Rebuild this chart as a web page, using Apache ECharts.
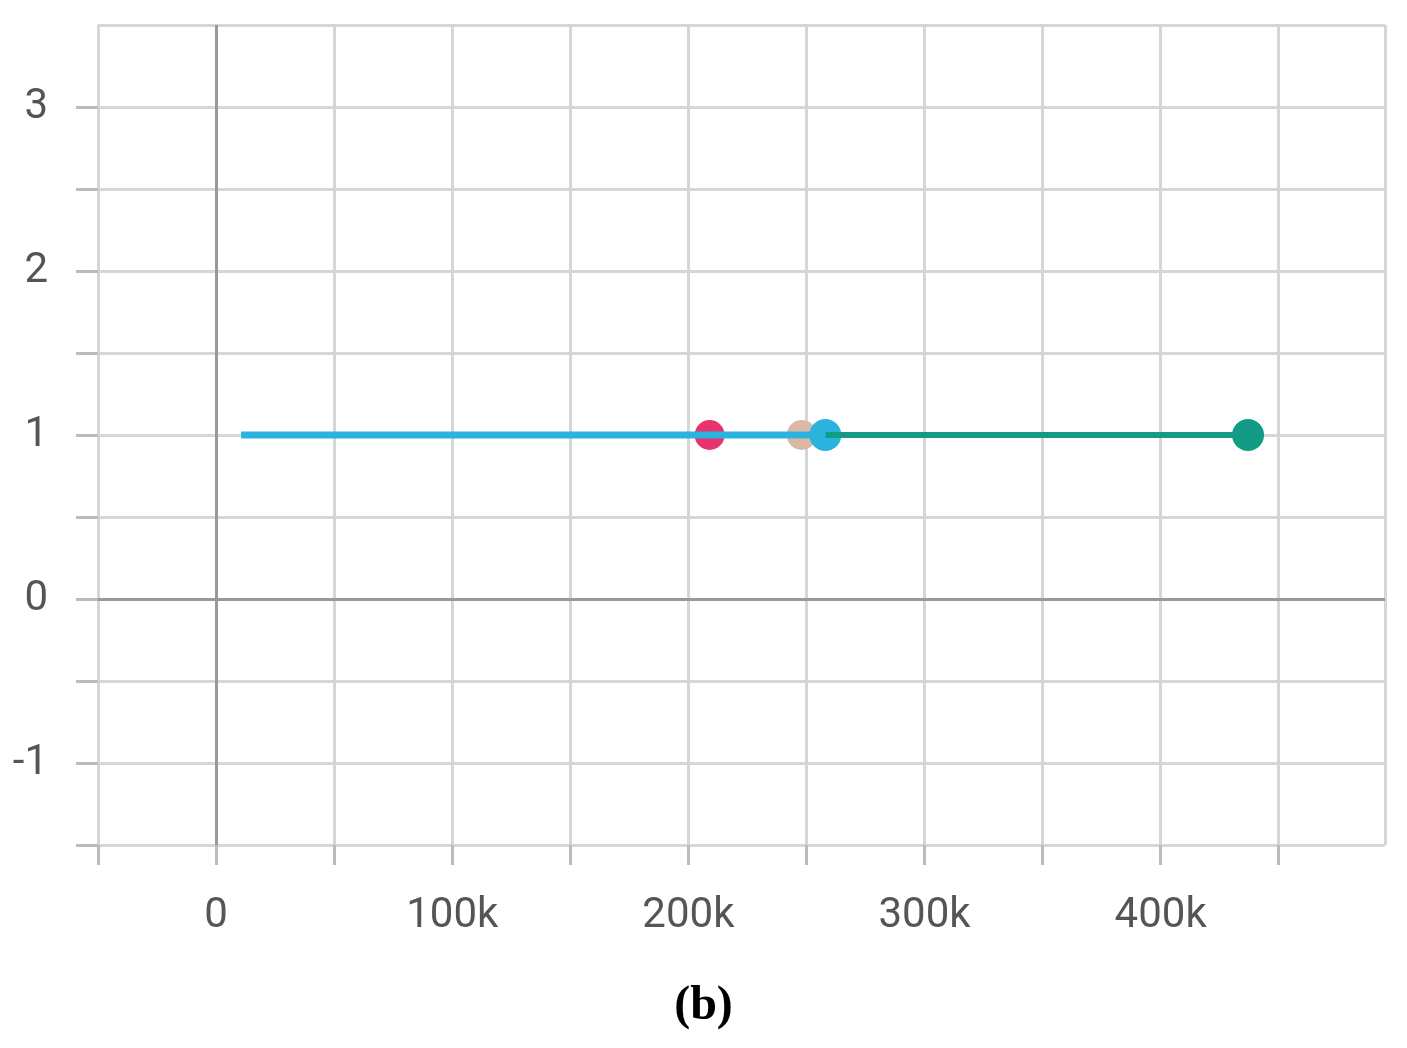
<!DOCTYPE html>
<html><head><meta charset="utf-8">
<script src="https://cdn.jsdelivr.net/npm/echarts@6/dist/echarts.min.js"></script>
<style>html,body{margin:0;background:#fff}#c{width:1407px;height:1048px}</style>
</head><body><div id="c"></div>
<script>
const blueLine = [[10600, 1], [258000, 1]];
const greenLine = [[258000, 1], [437000, 1]];
const pinkPoint = [[209000, 1]];
const beigePoint = [[248000, 1]];
const bluePoint = [[258000, 1]];
const greenPoint = [[437000, 1]];
const chart = echarts.init(document.getElementById('c'));
const lab = {color:'#555', fontSize:42, fontFamily:'Roboto'};
chart.setOption({
  animation:false,
  grid:{left:98,right:22,top:25,bottom:203},
  xAxis:{type:'value',min:-50000,max:495000,interval:50000,
    axisLine:{show:false,onZero:false},
    axisTick:{show:true,length:20,lineStyle:{color:'#bbb',width:3}},
    splitLine:{lineStyle:{color:'#d6d6d6',width:3}},
    axisLabel:Object.assign({margin:50,showMaxLabel:false,formatter:v=>v%100000===0?(v===0?'0':(v/1000)+'k'):''},lab)},
  yAxis:{type:'value',min:-1.5,max:3.5,interval:0.5,
    axisLine:{show:false,onZero:false},
    axisTick:{show:true,length:22,lineStyle:{color:'#bbb',width:3}},
    splitLine:{lineStyle:{color:'#d6d6d6',width:3}},
    axisLabel:Object.assign({margin:50,showMaxLabel:false,formatter:v=>Number.isInteger(v)?String(v):''},lab)},
  series:[
    {type:'line',data:[],markLine:{silent:true,symbol:'none',label:{show:false},
      lineStyle:{color:'#999',width:3,type:'solid'},data:[{xAxis:0},{yAxis:0}]}},
    {type:'line',data:greenLine,symbol:'none',lineStyle:{color:'#139b85',width:6}},
    {type:'line',data:blueLine,symbol:'none',lineStyle:{color:'#2bb3e0',width:7}},
    {type:'scatter',data:pinkPoint,symbolSize:30,itemStyle:{color:'#e8336d',opacity:1}},
    {type:'scatter',data:beigePoint,symbolSize:30,itemStyle:{color:'#d9b8a6',opacity:1}},
    {type:'scatter',data:bluePoint,symbolSize:32,itemStyle:{color:'#2bb3e0',opacity:1}},
    {type:'scatter',data:greenPoint,symbolSize:32,itemStyle:{color:'#139b85',opacity:1}}
  ],
  graphic:[{type:'text',left:'center',top:983,style:{text:'(b)',font:'bold 48px "Liberation Serif"',fill:'#000'}}]
});
</script></body></html>
